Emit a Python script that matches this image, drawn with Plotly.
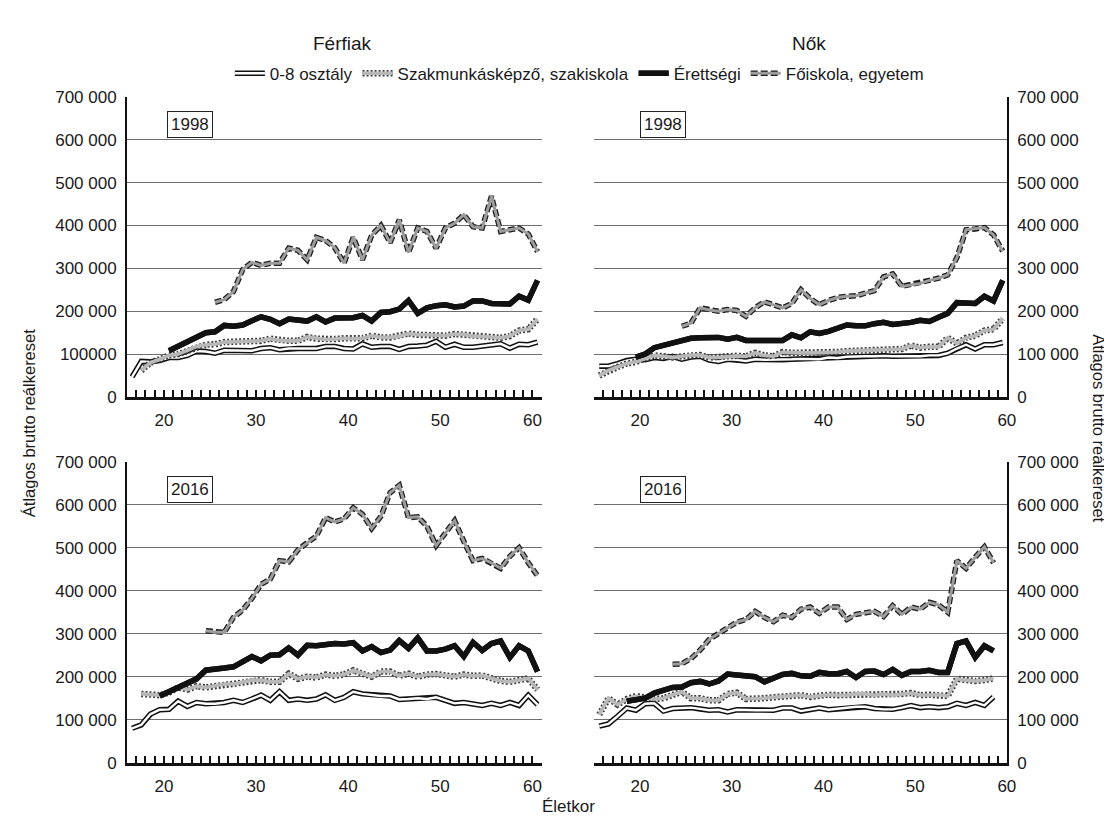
import plotly.graph_objects as go

# ---------------- data (Hungarian average gross real earnings by age) ----------------
SERIES_NAMES = ["0-8 osztály", "Szakmunkásképző, szakiskola", "Érettségi", "Főiskola, egyetem"]
PANEL_YEARS = ["1998", "1998", "2016", "2016"]
COLUMN_TITLES = ["Férfiak", "Nők"]
AGE_TICK_LABELS = [20, 30, 40, 50, 60]
Y_TICK_VALUES = [0, 100000, 200000, 300000, 400000, 500000, 600000, 700000]
Y_TICK_TEXT = ["0", "100 000", "200 000", "300 000", "400 000", "500 000", "600 000", "700 000"]
Y_TICK_TEXT_M1998 = ["0", "100000", "200 000", "300 000", "400 000", "500 000", "600 000", "700 000"]

# first age of each series (same order as SERIES_NAMES)
M1998_START = [17, 18, 21, 26]
W1998_START = [16, 16, 20, 25]
M2016_START = [17, 18, 20, 25]
W2016_START = [16, 16, 19, 24]

# Men 1998
M1998_ALAP = [47000, 83000, 82000, 85000, 92000, 92000, 97000, 107000, 106000, 102000, 109000, 109000,
              108000, 108000, 113000, 115000, 110000, 113000, 113000, 113000, 113000, 118000, 118000,
              113000, 112000, 124000, 116000, 118000, 118000, 111000, 118000, 119000, 121000, 130000,
              116000, 123000, 116000, 116000, 119000, 122000, 124000, 114000, 123000, 122000, 128000]
M1998_SZAK = [62000, 80000, 88000, 97000, 100000, 108000, 118000, 122000, 123000, 128000, 129000, 130000,
              131000, 131000, 136000, 132000, 131000, 131000, 140000, 136000, 134000, 135000, 137000,
              136000, 137000, 143000, 139000, 139000, 142000, 148000, 145000, 145000, 143000, 143000,
              147000, 146000, 142000, 142000, 140000, 138000, 142000, 155000, 158000, 182000]
M1998_ERETTSEGI = [108000, 118000, 128000, 138000, 150000, 152000, 167000, 165000, 168000, 178000, 187000,
                   181000, 171000, 182000, 178000, 177000, 187000, 175000, 184000, 185000, 185000, 190000,
                   177000, 197000, 199000, 205000, 225000, 195000, 208000, 213000, 215000, 210000, 212000,
                   224000, 224000, 218000, 218000, 217000, 235000, 226000, 272000]
M1998_FOISKOLA = [221000, 227000, 246000, 297000, 314000, 307000, 312000, 312000, 347000, 342000, 320000,
                  372000, 365000, 348000, 312000, 372000, 320000, 377000, 400000, 360000, 413000, 337000,
                  394000, 386000, 347000, 394000, 405000, 425000, 397000, 394000, 468000, 386000, 390000,
                  394000, 380000, 339000]

# Women 1998
W1998_ALAP = [72000, 72000, 78000, 85000, 88000, 87000, 92000, 90000, 95000, 88000, 93000, 95000, 86000,
              83000, 88000, 87000, 84000, 88000, 87000, 87000, 87000, 88000, 89000, 89000, 88000, 92000,
              91000, 94000, 95000, 95000, 95000, 96000, 95000, 95000, 94000, 95000, 97000, 97000, 102000,
              113000, 122000, 112000, 122000, 122000, 127000]
W1998_SZAK = [50000, 62000, 70000, 78000, 82000, 90000, 97000, 95000, 92000, 95000, 98000, 98000, 92000,
              92000, 95000, 96000, 95000, 103000, 97000, 95000, 105000, 103000, 103000, 103000, 103000,
              105000, 105000, 107000, 108000, 108000, 110000, 110000, 113000, 112000, 120000, 115000,
              117000, 117000, 138000, 125000, 138000, 143000, 155000, 158000, 183000]
W1998_ERETTSEGI = [93000, 100000, 115000, 121000, 126000, 130000, 137000, 138000, 138000, 139000, 135000,
                   139000, 132000, 132000, 130000, 130000, 132000, 145000, 138000, 152000, 148000, 153000,
                   160000, 168000, 166000, 166000, 171000, 174000, 169000, 171000, 174000, 179000, 176000,
                   186000, 195000, 220000, 218000, 218000, 235000, 224000, 272000]
W1998_FOISKOLA = [165000, 172000, 208000, 203000, 200000, 204000, 202000, 188000, 208000, 222000, 215000,
                  208000, 218000, 250000, 230000, 215000, 225000, 232000, 235000, 236000, 242000, 248000,
                  280000, 287000, 258000, 262000, 265000, 272000, 277000, 285000, 325000, 390000, 392000,
                  395000, 378000, 340000]

# Men 2016
M2016_ALAP = [80000, 88000, 113000, 123000, 124000, 143000, 131000, 140000, 137000, 137000, 140000, 145000,
              140000, 148000, 157000, 145000, 165000, 145000, 148000, 145000, 148000, 158000, 145000,
              152000, 165000, 160000, 158000, 155000, 155000, 147000, 148000, 150000, 148000, 152000,
              145000, 138000, 140000, 137000, 133000, 138000, 133000, 140000, 133000, 157000, 135000]
M2016_SZAK = [160000, 158000, 157000, 163000, 175000, 170000, 178000, 175000, 178000, 183000, 183000,
              187000, 192000, 192000, 188000, 188000, 207000, 195000, 200000, 198000, 205000, 202000,
              205000, 215000, 207000, 200000, 212000, 212000, 202000, 207000, 200000, 205000, 206000,
              203000, 200000, 205000, 202000, 203000, 197000, 190000, 188000, 192000, 196000, 170000]
M2016_ERETTSEGI = [155000, 165000, 178000, 187000, 195000, 215000, 216000, 220000, 223000, 236000, 247000,
                   237000, 250000, 251000, 267000, 250000, 273000, 272000, 276000, 277000, 276000, 279000,
                   260000, 270000, 256000, 262000, 284000, 266000, 290000, 260000, 260000, 264000, 272000,
                   247000, 280000, 261000, 277000, 283000, 245000, 272000, 260000, 212000]
M2016_FOISKOLA = [307000, 304000, 303000, 338000, 355000, 382000, 415000, 427000, 470000, 467000, 495000,
                  512000, 527000, 570000, 560000, 567000, 593000, 578000, 545000, 573000, 628000, 645000,
                  570000, 572000, 550000, 505000, 535000, 563000, 515000, 470000, 475000, 465000, 452000,
                  480000, 500000, 465000, 435000]

# Women 2016
W2016_ALAP = [85000, 90000, 108000, 127000, 122000, 137000, 138000, 120000, 126000, 127000, 128000, 125000,
              122000, 123000, 118000, 123000, 122000, 122000, 122000, 122000, 127000, 127000, 120000,
              123000, 127000, 123000, 125000, 128000, 130000, 130000, 126000, 124000, 124000, 128000,
              133000, 128000, 130000, 128000, 130000, 138000, 133000, 140000, 133000, 153000]
W2016_SZAK = [112000, 150000, 135000, 148000, 155000, 150000, 148000, 150000, 158000, 165000, 150000,
              150000, 145000, 145000, 160000, 163000, 148000, 148000, 150000, 152000, 153000, 155000,
              157000, 153000, 156000, 158000, 157000, 157000, 160000, 160000, 157000, 160000, 157000,
              160000, 162000, 157000, 158000, 158000, 155000, 195000, 192000, 190000, 192000, 196000]
W2016_ERETTSEGI = [143000, 145000, 150000, 162000, 170000, 175000, 176000, 186000, 189000, 183000, 190000,
                   206000, 204000, 202000, 200000, 188000, 198000, 205000, 208000, 202000, 201000, 210000,
                   207000, 207000, 212000, 198000, 212000, 213000, 205000, 217000, 203000, 212000, 212000,
                   215000, 210000, 210000, 277000, 283000, 245000, 272000, 260000]
W2016_FOISKOLA = [229000, 230000, 242000, 262000, 287000, 300000, 315000, 327000, 333000, 352000, 338000,
                  328000, 343000, 338000, 357000, 362000, 347000, 362000, 362000, 333000, 345000, 348000,
                  352000, 340000, 365000, 345000, 362000, 357000, 373000, 367000, 350000, 470000, 452000,
                  478000, 502000, 465000]

PANELS = [
    (M1998_START, [M1998_ALAP, M1998_SZAK, M1998_ERETTSEGI, M1998_FOISKOLA]),
    (W1998_START, [W1998_ALAP, W1998_SZAK, W1998_ERETTSEGI, W1998_FOISKOLA]),
    (M2016_START, [M2016_ALAP, M2016_SZAK, M2016_ERETTSEGI, M2016_FOISKOLA]),
    (W2016_START, [W2016_ALAP, W2016_SZAK, W2016_ERETTSEGI, W2016_FOISKOLA]),
]

# ---------------- styles ----------------
FONT = "Liberation Sans, Arial, sans-serif"
TXT = "#1a1a1a"
OUTER = [dict(color="#111111", width=5.5),
         dict(color="#3c3c3c", width=6.5, dash="2px,2px"),
         dict(color="#111111", width=5.5),
         dict(color="#1e1e1e", width=5.5, dash="7px,3px")]
INNER = [dict(color="#ffffff", width=2.4),
         dict(color="#b8b8b8", width=3.6),
         dict(color="#111111", width=5.5),
         dict(color="#9c9c9c", width=3.0)]
TICK_SHIFT = 0.45          # tick marks sit a little to the right of the points
X_RANGES = [[16.45, 61.45], [15.45, 60.45], [16.45, 61.45], [15.45, 60.45]]
W, H = 1112, 822
X_DOMAINS = [[120 / W, 538 / W], [591 / W, 1007 / W]]
Y_DOMAINS = [[1 - 389 / H, 1 - 81.7 / H], [1 - 763.3 / H, 1 - 455.3 / H]]

fig = go.Figure()

for p, (starts, values_list) in enumerate(PANELS):
    sfx = "" if p == 0 else str(p + 1)
    for s, vals in enumerate(values_list):
        ages = list(range(starts[s], starts[s] + len(vals)))
        for layer, style in (("outer", OUTER[s]), ("inner", INNER[s])):
            fig.add_trace(go.Scatter(
                x=ages, y=vals, mode="lines", name=SERIES_NAMES[s],
                line=dict(**style), xaxis="x" + sfx, yaxis="y" + sfx,
                legend="legend" if layer == "outer" else "legend2",
                showlegend=(p == 0), hoverinfo="skip"))

layout = dict(
    width=W, height=H, autosize=False,
    margin=dict(l=0, r=0, t=0, b=0),
    paper_bgcolor="white", plot_bgcolor="white",
    font=dict(family=FONT, size=17, color=TXT),
)
leg_common = dict(orientation="h", x=0.518, xanchor="center", y=1 - 58 / H, yanchor="middle",
                  bgcolor="rgba(0,0,0,0)", borderwidth=0, traceorder="normal",
                  itemwidth=30, tracegroupgap=0)
layout["legend"] = dict(font=dict(family=FONT, size=17, color=TXT), **leg_common)
layout["legend2"] = dict(font=dict(family=FONT, size=17, color="rgba(0,0,0,0)"), **leg_common)

for p in range(4):
    sfx = "" if p == 0 else str(p + 1)
    col, row = p % 2, p // 2
    layout["xaxis" + sfx] = dict(
        domain=X_DOMAINS[col], range=X_RANGES[p], anchor="y" + sfx,
        tickvals=[t + TICK_SHIFT for t in AGE_TICK_LABELS], ticktext=[str(t) for t in AGE_TICK_LABELS],
        ticks="inside", ticklen=7, tickwidth=1.6, tickcolor="#111111",
        minor=dict(ticks="inside", tick0=TICK_SHIFT, dtick=1, ticklen=7, tickwidth=1.6,
                   tickcolor="#111111", showgrid=False),
        showline=True, linecolor="#111111", linewidth=2.5, showgrid=False, zeroline=False,
        ticklabelstandoff=6, tickfont=dict(family=FONT, size=17, color=TXT),
        fixedrange=True)
    layout["yaxis" + sfx] = dict(
        domain=Y_DOMAINS[row], range=[0, 700000], anchor="x" + sfx,
        side="left" if col == 0 else "right",
        tickvals=Y_TICK_VALUES, ticktext=Y_TICK_TEXT_M1998 if p == 0 else Y_TICK_TEXT,
        ticks="", showline=True, linecolor="#111111", linewidth=2,
        showgrid=True, gridcolor="#6f6f6f", gridwidth=1.4, zeroline=False,
        ticklabelstandoff=5, tickfont=dict(family=FONT, size=17, color=TXT),
        fixedrange=True)

annotations = []
for p in range(4):
    sfx = "" if p == 0 else str(p + 1)
    col = p % 2
    annotations.append(dict(
        text=PANEL_YEARS[p], xref="x" + sfx + " domain", yref="y" + sfx + " domain",
        x=0.151 if col == 0 else 0.166, y=0.908, xanchor="center", yanchor="middle",
        showarrow=False, bordercolor="#222222", borderwidth=1, borderpad=3, bgcolor="white",
        font=dict(family=FONT, size=17, color=TXT)))
annotations.append(dict(text=COLUMN_TITLES[0], xref="paper", yref="paper", x=337 / W, y=1 - 27 / H,
                        xanchor="center", yanchor="middle", showarrow=False,
                        font=dict(family=FONT, size=19, color=TXT)))
annotations.append(dict(text=COLUMN_TITLES[1], xref="paper", yref="paper", x=808 / W, y=1 - 27 / H,
                        xanchor="center", yanchor="middle", showarrow=False,
                        font=dict(family=FONT, size=19, color=TXT)))
annotations.append(dict(text="Átlagos brutto reálkereset", xref="paper", yref="paper", x=22 / W,
                        y=1 - 416 / H, xanchor="center", yanchor="middle", textangle=-90, showarrow=False,
                        font=dict(family=FONT, size=16.5, color=TXT)))
annotations.append(dict(text="Átlagos brutto reálkereset", xref="paper", yref="paper", x=1100 / W,
                        y=1 - 421 / H, xanchor="center", yanchor="middle", textangle=90, showarrow=False,
                        font=dict(family=FONT, size=16.5, color=TXT)))
annotations.append(dict(text="Életkor", xref="paper", yref="paper", x=565 / W, y=1 - 808 / H,
                        xanchor="center", yanchor="middle", showarrow=False,
                        font=dict(family=FONT, size=17, color=TXT)))
layout["annotations"] = annotations

fig.update_layout(**layout)
fig.write_html("out.html")
